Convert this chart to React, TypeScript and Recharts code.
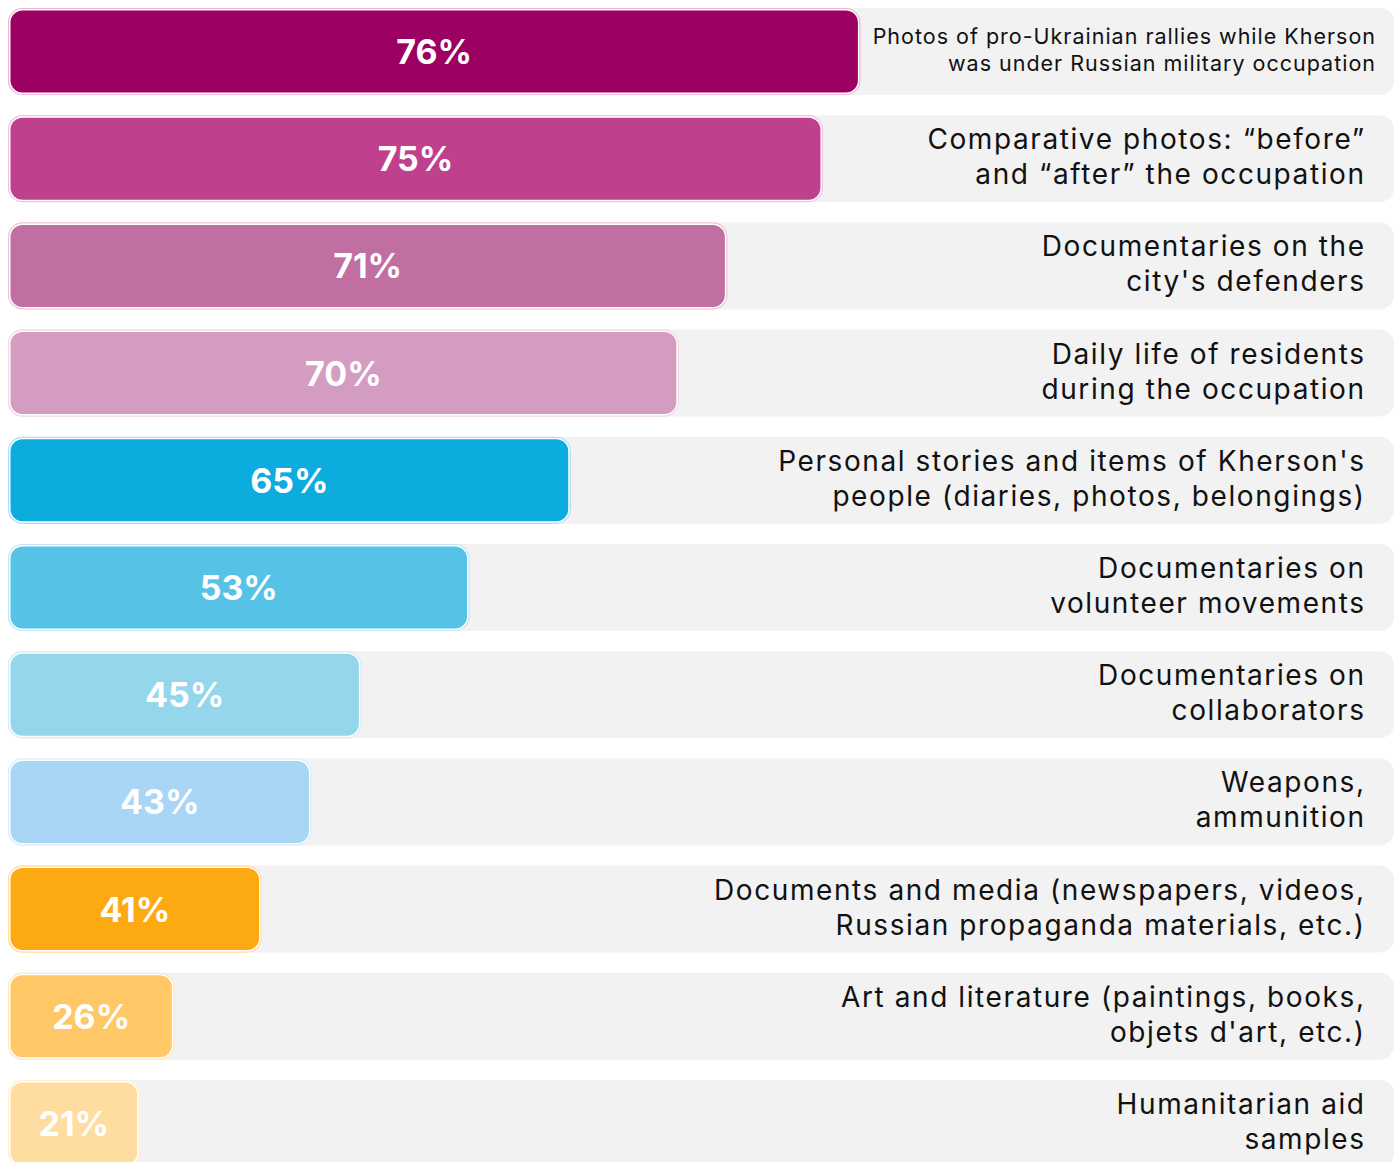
import React from 'react';
import { BarChart, Bar, XAxis, YAxis, Cell, LabelList } from 'recharts';

const categories = [
  "Photos of pro-Ukrainian rallies while Kherson\nwas under Russian military occupation",
  "Comparative photos: \u201cbefore\u201d\nand \u201cafter\u201d the occupation",
  "Documentaries on the\ncity's defenders",
  "Daily life of residents\nduring the occupation",
  "Personal stories and items of Kherson's\npeople (diaries, photos, belongings)",
  "Documentaries on\nvolunteer movements",
  "Documentaries on\ncollaborators",
  "Weapons,\nammunition",
  "Documents and media (newspapers, videos,\nRussian propaganda materials, etc.)",
  "Art and literature (paintings, books,\nobjets d'art, etc.)",
  "Humanitarian aid\nsamples",
];

// Displayed share of respondents (%)
const percentValues = [76, 75, 71, 70, 65, 53, 45, 43, 41, 26, 21];

// Visual bar extent as share of the full track width
const barLengths = [61.5, 58.8, 51.9, 48.4, 40.6, 33.3, 25.5, 21.9, 18.3, 12.0, 9.5];

const barColors = [
  '#9b0062', '#bf408c', '#c16ea0', '#d49cc0',
  '#0dacdf', '#55c2e6', '#96d6ec', '#a8d6f4',
  '#fdaa12', '#ffc765', '#ffdca0',
];

const outlineColors = [
  '#ecb8d6', '#f0c4dc', '#ecc8dc', '#f0d8e6',
  '#a8e0f4', '#bfe6f4', '#d0eef8', '#d8ecfa',
  '#ffdca0', '#ffe6bc', '#fff0d6',
];

const data = categories.map((c, i) => ({
  category: c,
  pct: percentValues[i],
  length: barLengths[i],
}));

const CHART_W = 1386;
const ROW_H = 107.2;
const BAR_H = 87;

const BarShape = (props: any) => {
  const { x, y, width, height, index } = props;
  const inset = 2.5;
  const i = index ?? 0;
  return (
    <g>
      <rect x={x + 0.5} y={y + 0.5} width={Math.max(width - 1, 0)} height={height - 1} rx={14} ry={14}
        fill="#ffffff" stroke={outlineColors[i]} strokeWidth={1.2} />
      <rect x={x + inset} y={y + inset} width={Math.max(width - 2 * inset, 0)} height={height - 2 * inset}
        rx={12} ry={12} fill={barColors[i]} />
    </g>
  );
};

const CategoryLabel = (props: any) => {
  const { y, height, index } = props;
  const i = index ?? 0;
  const lines = categories[i].split('\n');
  const cy = y + height / 2 - 2;
  const first = i === 0;
  const fs = first ? 21.5 : 28;
  const ls = first ? 1.0 : 1.6;
  const off = first ? 13.3 : 17.5;
  const rx = (first ? CHART_W - 19 : CHART_W - 30) + ls;
  return (
    <g>
      {lines.map((l, k) => (
        <text key={k} x={rx} y={cy + (k === 0 ? -off : off)} textAnchor="end" dominantBaseline="central"
          fontFamily="Inter, 'Noto Sans', sans-serif" fontSize={fs} letterSpacing={ls} fill="#111111">
          {l}
        </text>
      ))}
    </g>
  );
};

const ValueLabel = (props: any) => {
  const { x, y, width, height, index } = props;
  const i = index ?? 0;
  return (
    <text x={x + width / 2} y={y + height / 2} textAnchor="middle" dominantBaseline="central"
      fontFamily="Inter, 'Noto Sans', sans-serif" fontWeight={700} fontSize={34} fill="#ffffff">
      {percentValues[i] + '%'}
    </text>
  );
};

export default function App() {
  return (
    <div style={{ position: 'fixed', left: 0, top: 0, width: 1396, height: 1162, overflow: 'hidden', background: '#ffffff' }}>
      <div style={{ position: 'absolute', left: 8, top: 8 - (ROW_H - BAR_H) / 2, width: CHART_W }}>
        <BarChart
          width={CHART_W}
          height={ROW_H * categories.length}
          data={data}
          layout="vertical"
          margin={{ top: 0, right: 0, bottom: 0, left: 0 }}
          barSize={BAR_H}
        >
          <XAxis type="number" dataKey="length" domain={[0, 100]} hide />
          <YAxis type="category" dataKey="category" hide />
          <Bar
            dataKey="length"
            isAnimationActive={false}
            background={{ fill: '#f2f2f2', radius: 14 } as any}
            shape={BarShape}
          >
            {data.map((d, i) => (
              <Cell key={i} fill={barColors[i]} />
            ))}
            <LabelList dataKey="pct" content={ValueLabel} />
            <LabelList dataKey="category" content={CategoryLabel} />
          </Bar>
        </BarChart>
      </div>
    </div>
  );
}
